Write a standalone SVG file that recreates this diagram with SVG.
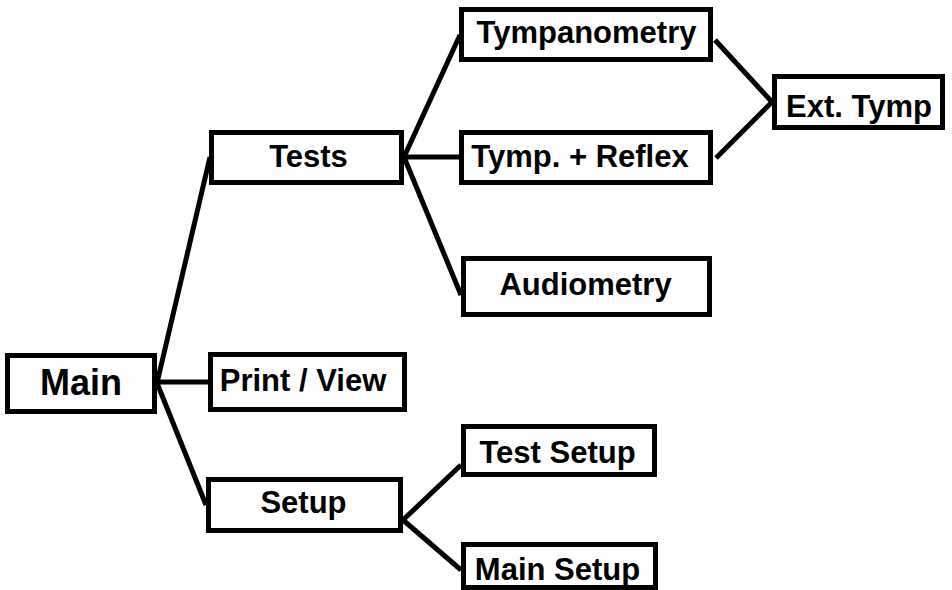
<svg xmlns="http://www.w3.org/2000/svg" width="952" height="590" viewBox="0 0 952 590">
<style>
.box{fill:#fff;stroke:#000;stroke-width:5}
.lbl{font-family:"Liberation Sans",Arial,sans-serif;font-weight:bold;font-size:31px;fill:#000;text-anchor:middle}
.edge{stroke:#000;stroke-width:5;fill:none;stroke-linecap:butt}
</style>
<rect width="952" height="590" fill="#fff"/>
<g id="connectors">
<line class="edge" x1="157" y1="383" x2="210" y2="157"/>
<line class="edge" x1="157" y1="382" x2="209" y2="382"/>
<line class="edge" x1="157" y1="383" x2="206" y2="505"/>
<line class="edge" x1="404" y1="157" x2="460" y2="35"/>
<line class="edge" x1="404" y1="157" x2="460" y2="157"/>
<line class="edge" x1="404" y1="157" x2="461" y2="295"/>
<line class="edge" x1="715" y1="40" x2="772" y2="102"/>
<line class="edge" x1="716" y1="158" x2="772" y2="102"/>
<line class="edge" x1="403" y1="520" x2="461" y2="465"/>
<line class="edge" x1="403" y1="520" x2="461" y2="570"/>
</g>
<g id="main"><rect class="box" x="7.5" y="355.5" width="147" height="56"/><text class="lbl" x="81" y="395" style="font-size:36px">Main</text></g>
<g id="tests"><rect class="box" x="211.5" y="132.5" width="190" height="50"/><text class="lbl" x="308.5" y="167">Tests</text></g>
<g id="printview"><rect class="box" x="210.5" y="354.5" width="194" height="55"/><text class="lbl" x="303" y="391">Print / View</text></g>
<g id="setup"><rect class="box" x="208.5" y="479.5" width="192" height="51"/><text class="lbl" x="303.5" y="513">Setup</text></g>
<g id="tympanometry"><rect class="box" x="461.5" y="9.5" width="249" height="50"/><text class="lbl" x="586.5" y="43">Tympanometry</text></g>
<g id="tympreflex"><rect class="box" x="461.5" y="132.5" width="249" height="50"/><text class="lbl" x="580" y="167">Tymp. + Reflex</text></g>
<g id="audiometry"><rect class="box" x="463.5" y="258.5" width="246" height="56"/><text class="lbl" x="585.5" y="295">Audiometry</text></g>
<g id="exttymp"><rect class="box" x="774.5" y="76.5" width="168" height="51"/><text class="lbl" x="859" y="117">Ext. Tymp</text></g>
<g id="testsetup"><rect class="box" x="463.5" y="426.5" width="191" height="48"/><text class="lbl" x="557.5" y="463">Test Setup</text></g>
<g id="mainsetup"><rect class="box" x="463.5" y="544.5" width="192" height="43"/><text class="lbl" x="557.5" y="580">Main Setup</text></g>
</svg>
